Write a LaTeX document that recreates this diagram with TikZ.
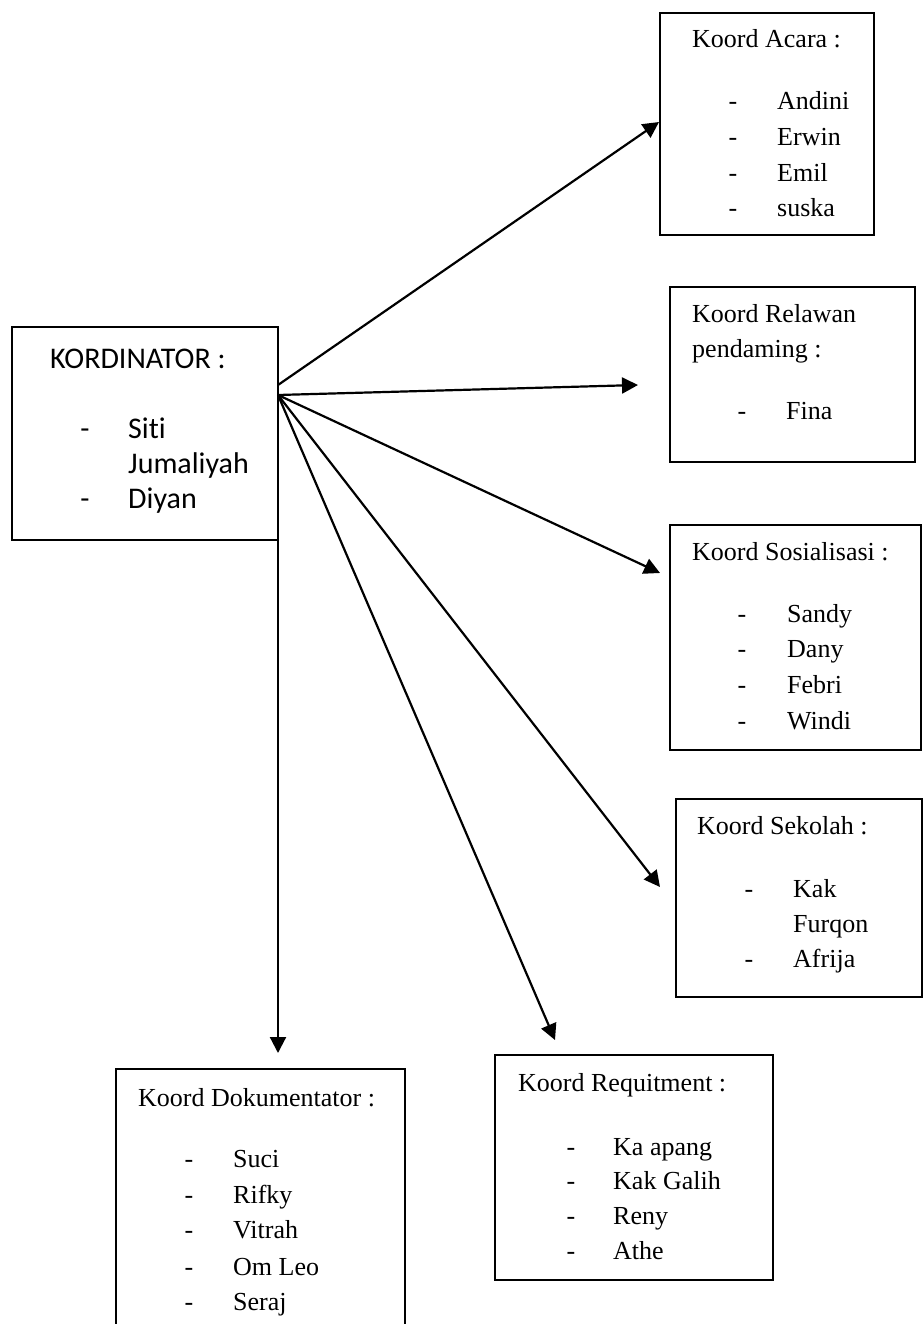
\documentclass[tikz,border=0pt]{standalone}
\usepackage{fontspec}
\setmainfont{Liberation Serif}
\newfontfamily\calib[Ligatures=NoCommon]{Carlito}
\usetikzlibrary{arrows.meta}
\begin{document}
\begin{tikzpicture}[x=1pt,y=-1pt,
  box/.style={draw,line width=2.2pt,inner sep=0pt,outer sep=0pt,anchor=north west},
  txt/.style={anchor=base west,inner sep=0pt,font=\fontsize{26}{35.7}\selectfont},
  dsh/.style={anchor=base,inner sep=0pt,font=\fontsize{26}{35.7}\selectfont},
  ctxt/.style={anchor=base west,inner sep=0pt,font=\calib\fontsize{30}{35}\selectfont},
  cdsh/.style={anchor=base,inner sep=0pt,font=\calib\fontsize{30}{35}\selectfont},
  conn/.style={line width=2.2pt,-{Triangle[length=16pt,width=16pt]}}]
\useasboundingbox (0,0) rectangle (923,1324);
% boxes
\node[box,minimum width=266pt,minimum height=213pt] (kord) at (12,327) {};
\node[box,minimum width=214pt,minimum height=222pt] (acara) at (660,13) {};
\node[box,minimum width=245pt,minimum height=175pt] (relawan) at (670,287) {};
\node[box,minimum width=251pt,minimum height=225pt] (sosial) at (670,525) {};
\node[box,minimum width=246pt,minimum height=198pt] (sekolah) at (676,799) {};
\node[box,minimum width=278pt,minimum height=225pt] (requit) at (495,1055) {};
\node[box,minimum width=289pt,minimum height=265pt] (dokum) at (116,1069) {};
% KORDINATOR
\node[ctxt] (k0) at (50,368) {KORDINATOR :};
\node[cdsh] (k1d) at (85,438) {-};
\node[ctxt] (k1) at (128,438) {Siti};
\node[ctxt] (k2) at (128,473) {Jumaliyah};
\node[cdsh] (k3d) at (85,508) {-};
\node[ctxt] (k3) at (128,508) {Diyan};
% Acara
\node[txt] (a0) at (692,48) {Koord Acara :};
\node[dsh] (a1d) at (733,110) {-}; \node[txt] (a1) at (777,110) {Andini};
\node[dsh] (a2d) at (733,146) {-}; \node[txt] (a2) at (777,146) {Erwin};
\node[dsh] (a3d) at (733,182) {-}; \node[txt] (a3) at (777,182) {Emil};
\node[dsh] (a4d) at (733,217) {-}; \node[txt] (a4) at (777,217) {suska};
% Relawan
\node[txt] (r0) at (692,322) {Koord Relawan};
\node[txt] (r1) at (692,357) {pendaming :};
\node[dsh] (r2d) at (742,419) {-}; \node[txt] (r2) at (786,419) {Fina};
% Sosialisasi
\node[txt] (s0) at (692,560) {Koord Sosialisasi :};
\node[dsh] (s1d) at (742,622) {-}; \node[txt] (s1) at (787,622) {Sandy};
\node[dsh] (s2d) at (742,657) {-}; \node[txt] (s2) at (787,657) {Dany};
\node[dsh] (s3d) at (742,693) {-}; \node[txt] (s3) at (787,693) {Febri};
\node[dsh] (s4d) at (742,729) {-}; \node[txt] (s4) at (787,729) {Windi};
% Sekolah
\node[txt] (e0) at (697,834) {Koord Sekolah :};
\node[dsh] (e1d) at (749,897) {-}; \node[txt] (e1) at (793,897) {Kak};
\node[txt] (e2) at (793,932) {Furqon};
\node[dsh] (e3d) at (749,967) {-}; \node[txt] (e3) at (793,967) {Afrija};
% Requitment
\node[txt] (q0) at (518,1091) {Koord Requitment :};
\node[dsh] (q1d) at (571,1155) {-}; \node[txt] (q1) at (613,1155) {Ka apang};
\node[dsh] (q2d) at (571,1189) {-}; \node[txt] (q2) at (613,1189) {Kak Galih};
\node[dsh] (q3d) at (571,1224) {-}; \node[txt] (q3) at (613,1224) {Reny};
\node[dsh] (q4d) at (571,1259) {-}; \node[txt] (q4) at (613,1259) {Athe};
% Dokumentator
\node[txt] (d0) at (138,1106) {Koord Dokumentator :};
\node[dsh] (d1d) at (189,1167) {-}; \node[txt] (d1) at (233,1167) {Suci};
\node[dsh] (d2d) at (189,1203) {-}; \node[txt] (d2) at (233,1203) {Rifky};
\node[dsh] (d3d) at (189,1238) {-}; \node[txt] (d3) at (233,1238) {Vitrah};
\node[dsh] (d4d) at (189,1275) {-}; \node[txt] (d4) at (233,1275) {Om Leo};
\node[dsh] (d5d) at (189,1310) {-}; \node[txt] (d5) at (233,1310) {Seraj};
% connector end points
\coordinate (hubA) at (278,385);
\coordinate (hubB) at (278,395);
\coordinate (tA) at (659,122);
\coordinate (tR) at (638,385);
\coordinate (tS) at (660,573);
\coordinate (tE) at (660,887);
\coordinate (tQ) at (555,1040);
\coordinate (tD) at (278,1053);
\draw[conn] (hubA) -- (tA);
\draw[conn] (hubB) -- (tR);
\draw[conn] (hubB) -- (tS);
\draw[conn] (hubB) -- (tE);
\draw[conn] (hubB) -- (tQ);
\draw[conn] (hubB) -- (tD);
\end{tikzpicture}
\end{document}
